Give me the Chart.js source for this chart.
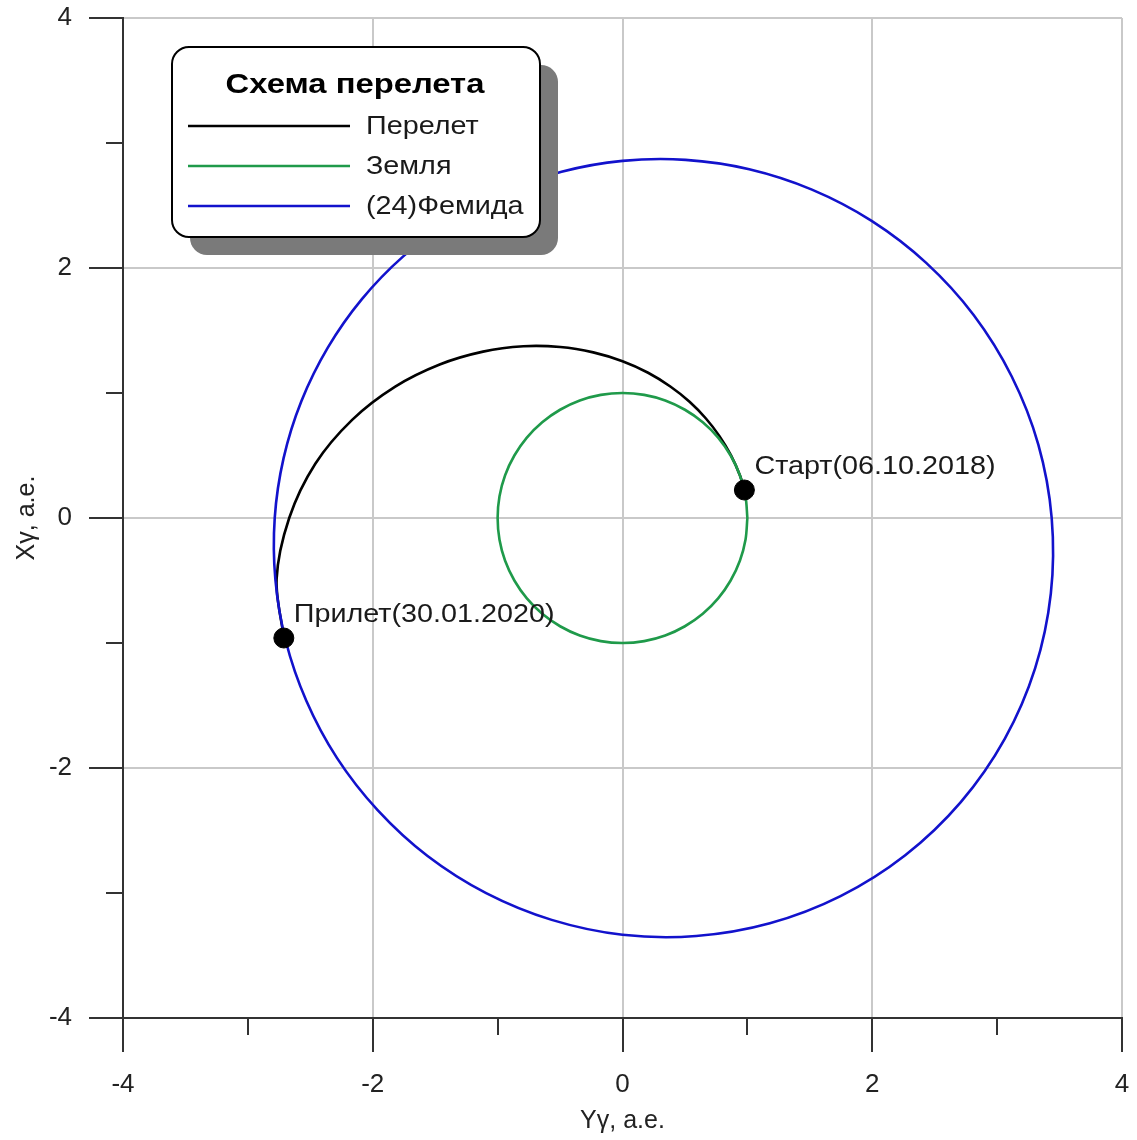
<!DOCTYPE html>
<html lang="ru">
<head>
<meta charset="utf-8">
<title>Схема перелета</title>
<script src="https://cdn.jsdelivr.net/npm/chart.js@4/dist/chart.umd.min.js"></script>
<style>
  html, body { margin: 0; padding: 0; background: #fff; }
  #wrap { position: relative; width: 1137px; height: 1140px; }
</style>
</head>
<body>
<div id="wrap"><canvas id="chart"></canvas></div>
<script>
// Transfer trajectory (Yγ, Xγ in a.e.)
const transferY = [0.976, 0.940, 0.869, 0.778, 0.668, 0.537, 0.383, 0.205, 0, -0.234, -0.498, -0.793, -1.117, -1.464, -1.820, -2.163, -2.460, -2.669, -2.770, -2.712];
const transferX = [0.224, 0.342, 0.501, 0.653, 0.796, 0.930, 1.052, 1.162, 1.254, 1.325, 1.368, 1.374, 1.331, 1.228, 1.051, 0.787, 0.434, 0, -0.490, -0.96];

// Earth orbit
const earthY = [1, 0.985, 0.940, 0.866, 0.766, 0.643, 0.5, 0.342, 0.174, 0, -0.174, -0.342, -0.5, -0.643, -0.766, -0.866, -0.940, -0.985, -1, -0.985, -0.940, -0.866, -0.766, -0.643, -0.5, -0.342, -0.174, 0, 0.174, 0.342, 0.5, 0.643, 0.766, 0.866, 0.940, 0.985, 1];
const earthX = [0, 0.174, 0.342, 0.5, 0.643, 0.766, 0.866, 0.940, 0.985, 1, 0.985, 0.940, 0.866, 0.766, 0.643, 0.5, 0.342, 0.174, 0, -0.174, -0.342, -0.5, -0.643, -0.766, -0.866, -0.940, -0.985, -1, -0.985, -0.940, -0.866, -0.766, -0.643, -0.5, -0.342, -0.174, 0];

// (24) Themis orbit
const themisY = [-0.950, -1.375, -1.756, -2.087, -2.360, -2.571, -2.714, -2.785, -2.780, -2.697, -2.532, -2.287, -1.961, -1.561, -1.092, -0.567, 0, 0.590, 1.180, 1.746, 2.264, 2.709, 3.061, 3.304, 3.430, 3.437, 3.330, 3.116, 2.812, 2.432, 1.995, 1.517, 1.015, 0.505, 0, -0.488, -0.950];
const themisX = [2.609, 2.381, 2.093, 1.751, 1.363, 0.936, 0.479, 0, -0.490, -0.982, -1.462, -1.919, -2.337, -2.704, -3.001, -3.215, -3.334, -3.344, -3.242, -3.025, -2.698, -2.273, -1.767, -1.203, -0.605, 0, 0.587, 1.134, 1.624, 2.041, 2.377, 2.627, 2.790, 2.865, 2.857, 2.770, 2.609];

// Departure and arrival points
const markY = [0.976, -2.712];
const markX = [0.224, -0.96];
const markLabels = ['Старт(06.10.2018)', 'Прилет(30.01.2020)'];

// Legend entries and axis texts
const seriesNames = ['Перелет', 'Земля', '(24)Фемида'];
const legendTitle = 'Схема перелета';
const axisTitleX = 'Yγ, a.e.';
const axisTitleY = 'Xγ, a.e.';
const tickValues = [-4, -3, -2, -1, 0, 1, 2, 3, 4];

const COLORS = { transfer: '#000000', earth: '#1f9a4a', themis: '#1212cc' };
const AXIS_COLOR = '#333333';
const GRID_COLOR = '#c9c9c9';
const FONT = '"Liberation Sans", Arial, sans-serif';
const TEXT_STRETCH = 1.15;

const toPoints = (xs, ys) => xs.map((v, i) => ({ x: v, y: ys[i] }));
const isMajor = v => Math.round(v) % 2 === 0;

// Shorter tick marks at odd values
const minorTicks = {
  id: 'minorTicks',
  afterDraw(chart) {
    const { ctx, scales: { x, y } } = chart;
    ctx.save();
    ctx.strokeStyle = AXIS_COLOR;
    ctx.lineWidth = 2;
    ctx.beginPath();
    tickValues.filter(v => !isMajor(v)).forEach(v => {
      const px = Math.round(x.getPixelForValue(v));
      ctx.moveTo(px, x.top);
      ctx.lineTo(px, x.top + 17);
      const py = Math.round(y.getPixelForValue(v));
      ctx.moveTo(y.right, py);
      ctx.lineTo(y.right - 17, py);
    });
    ctx.stroke();
    ctx.restore();
  }
};

function stretchedText(ctx, text, x, y) {
  ctx.save();
  ctx.translate(x, y);
  ctx.scale(TEXT_STRETCH, 1);
  ctx.fillText(text, 0, 0);
  ctx.restore();
}

// Labels next to the departure / arrival markers
const markerText = {
  id: 'markerText',
  afterDatasetsDraw(chart) {
    const { ctx, scales: { x, y } } = chart;
    ctx.save();
    ctx.fillStyle = '#1a1a1a';
    ctx.font = '25px ' + FONT;
    ctx.textAlign = 'left';
    ctx.textBaseline = 'middle';
    markLabels.forEach((t, i) => {
      const px = x.getPixelForValue(markY[i]);
      const py = y.getPixelForValue(markX[i]);
      stretchedText(ctx, t, px + 10, py - 23);
    });
    ctx.restore();
  }
};

// Framed legend with drop shadow
const boxLegend = {
  id: 'boxLegend',
  afterDatasetsDraw(chart) {
    const { ctx } = chart;
    const bx = 172, by = 47, bw = 368, bh = 190, r = 17, sh = 18;
    ctx.save();
    ctx.fillStyle = '#7a7a7a';
    ctx.beginPath();
    ctx.roundRect(bx + sh, by + sh, bw, bh, r);
    ctx.fill();
    ctx.fillStyle = '#ffffff';
    ctx.strokeStyle = '#000000';
    ctx.lineWidth = 2;
    ctx.beginPath();
    ctx.roundRect(bx, by, bw, bh, r);
    ctx.fill();
    ctx.stroke();

    ctx.fillStyle = '#000000';
    ctx.font = 'bold 28.5px ' + FONT;
    ctx.textAlign = 'center';
    ctx.textBaseline = 'middle';
    stretchedText(ctx, legendTitle, bx + bw / 2 - 1, by + 38);

    ctx.font = '25px ' + FONT;
    ctx.textAlign = 'left';
    const lines = chart.data.datasets.filter(d => d.showInBox);
    lines.forEach((d, i) => {
      const ly = by + 79 + i * 40;
      ctx.strokeStyle = d.borderColor;
      ctx.lineWidth = 2.5;
      ctx.beginPath();
      ctx.moveTo(bx + 16, ly);
      ctx.lineTo(bx + 178, ly);
      ctx.stroke();
      ctx.fillStyle = '#1a1a1a';
      stretchedText(ctx, d.label, bx + 194, ly + 1);
    });
    ctx.restore();
  }
};

const lineDefaults = { showLine: true, pointRadius: 0, pointHoverRadius: 0, borderWidth: 2.6, tension: 0.33, fill: false };

const axis = (title, isX) => ({
  type: 'linear',
  min: -4,
  max: 4,
  afterFit(scale) {
    if (isX) { scale.height = 122; scale.paddingLeft = 0; scale.paddingRight = 0; }
    else { scale.width = 123; scale.paddingTop = 0; scale.paddingBottom = 0; }
  },
  afterBuildTicks(scale) { scale.ticks = tickValues.map(v => ({ value: v })); },
  ticks: {
    stepSize: 1,
    autoSkip: false,
    maxRotation: 0,
    padding: isX ? 17 : 17,
    color: '#222',
    font: { family: FONT, size: 26 },
    callback: v => (isMajor(v) ? String(v) : '')
  },
  grid: {
    color: c => (c.tick && isMajor(c.tick.value) ? GRID_COLOR : 'rgba(0,0,0,0)'),
    lineWidth: 2,
    drawTicks: true,
    tickLength: 34,
    tickWidth: 2,
    tickColor: c => (c.tick && isMajor(c.tick.value) ? AXIS_COLOR : 'rgba(0,0,0,0)')
  },
  border: { display: true, color: AXIS_COLOR, width: 2 },
  title: {
    display: true,
    text: title,
    color: '#222',
    font: { family: FONT, size: 25 },
    padding: isX ? { top: 0, bottom: 4 } : { top: 12, bottom: 0 }
  }
});

new Chart(document.getElementById('chart'), {
  type: 'scatter',
  data: {
    datasets: [
      { label: 'markers', data: toPoints(markY, markX), pointRadius: 10, pointHoverRadius: 10, backgroundColor: '#000', borderColor: '#000', showLine: false, order: 0 },
      { ...lineDefaults, label: seriesNames[0], data: toPoints(transferY, transferX), borderColor: COLORS.transfer, showInBox: true, order: 3 },
      { ...lineDefaults, label: seriesNames[1], data: toPoints(earthY, earthX), borderColor: COLORS.earth, showInBox: true, order: 1 },
      { ...lineDefaults, label: seriesNames[2], data: toPoints(themisY, themisX), borderColor: COLORS.themis, showInBox: true, order: 2 }
    ]
  },
  options: {
    responsive: true,
    maintainAspectRatio: false,
    animation: false,
    events: [],
    layout: { padding: { top: 18, right: 15, left: 0, bottom: 0 } },
    plugins: { legend: { display: false }, tooltip: { enabled: false } },
    scales: { x: axis(axisTitleX, true), y: axis(axisTitleY, false) }
  },
  plugins: [minorTicks, markerText, boxLegend]
});
</script>
</body>
</html>
